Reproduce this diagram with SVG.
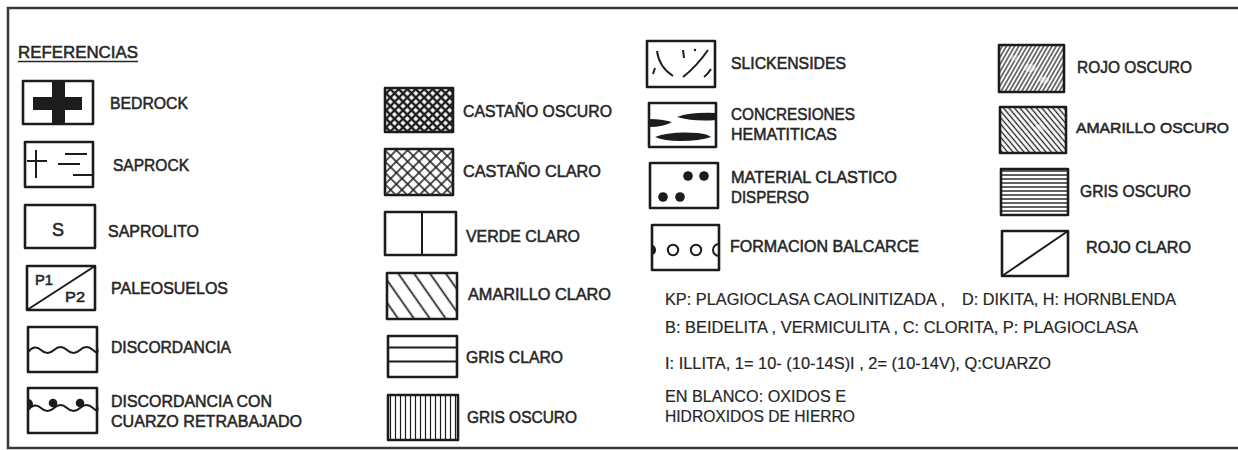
<svg xmlns="http://www.w3.org/2000/svg" width="1238" height="450" viewBox="0 0 1238 450">
<style>
.box{fill:none;stroke:#1c1c1c;stroke-width:2.6;stroke-linejoin:round}
.ln{fill:none;stroke:#1c1c1c;stroke-width:2}
.blk{fill:#1c1c1c}
.lbl{font-family:"Liberation Sans",Arial,sans-serif;font-size:17px;fill:#262626;stroke:#262626;stroke-width:0.55}
.txt{font-family:"Liberation Sans",Arial,sans-serif;font-size:16.5px;fill:#262626;stroke:#262626;stroke-width:0.2}
.frame{fill:none;stroke:#3a3a3a;stroke-width:2.6}
</style>
<defs>
<pattern id="pCO" width="6" height="6" patternUnits="userSpaceOnUse" patternTransform="rotate(45)">
<path d="M0 3H6M3 0V6" stroke="#1c1c1c" stroke-width="2.3"/>
</pattern>
<pattern id="pCC" width="8" height="8" patternUnits="userSpaceOnUse" patternTransform="translate(385 88) rotate(45)">
<path d="M0 4H8M4 0V8" stroke="#1c1c1c" stroke-width="1.5"/>
</pattern>
<pattern id="pAC" width="13" height="13" patternUnits="userSpaceOnUse" patternTransform="translate(390 273) rotate(-35)">
<path d="M6.5 0V13" stroke="#1c1c1c" stroke-width="1.7"/>
</pattern>
<pattern id="pGO2" width="5" height="5" patternUnits="userSpaceOnUse" patternTransform="translate(388 0)">
<path d="M2.5 0V5" stroke="#1c1c1c" stroke-width="1.2"/>
</pattern>
<pattern id="pRO" width="3.6" height="3.6" patternUnits="userSpaceOnUse" patternTransform="rotate(30)">
<path d="M1.8 0V3.6" stroke="#1c1c1c" stroke-width="1.2"/>
</pattern>
<pattern id="pAO" width="4.2" height="4.2" patternUnits="userSpaceOnUse" patternTransform="rotate(-40)">
<path d="M2.1 0V4.2" stroke="#1c1c1c" stroke-width="1.3"/>
</pattern>
<pattern id="pGO4" width="4" height="4" patternUnits="userSpaceOnUse" patternTransform="translate(0 169)">
<path d="M0 2H4" stroke="#1c1c1c" stroke-width="1.4"/>
</pattern>
</defs>

<g id="frame">
<path class="frame" d="M1238 8H8V448H1238"/>
</g>

<g id="title">
<text class="lbl" x="18" y="58" textLength="120" lengthAdjust="spacingAndGlyphs">REFERENCIAS</text>
<path d="M18 61.5H138" stroke="#262626" stroke-width="1.6"/>
</g>

<g id="bedrock">
<rect class="box" x="23" y="81" width="70" height="43"/>
<rect class="blk" x="52" y="81" width="13" height="43"/>
<rect class="blk" x="33" y="97" width="49" height="13"/>
<text class="lbl" x="110" y="109" textLength="78" lengthAdjust="spacingAndGlyphs">BEDROCK</text>
</g>

<g id="saprock">
<rect class="box" x="25" y="142" width="68" height="45"/>
<path class="ln" d="M27 161H47M36 150V178M65 154H87M58 164H80M73 175H92"/>
<text class="lbl" x="113" y="171" textLength="76" lengthAdjust="spacingAndGlyphs">SAPROCK</text>
</g>

<g id="saprolito">
<rect class="box" x="25" y="205" width="70" height="43"/>
<text class="lbl" x="52" y="236" style="font-size:18px">S</text>
<text class="lbl" x="108" y="237" textLength="91" lengthAdjust="spacingAndGlyphs">SAPROLITO</text>
</g>

<g id="paleosuelos">
<rect class="box" x="27" y="266" width="68" height="44"/>
<path class="ln" d="M27 310L95 266"/>
<text class="lbl" x="35" y="285" textLength="18" lengthAdjust="spacingAndGlyphs" style="font-size:14px">P1</text>
<text class="lbl" x="65" y="302" textLength="20" lengthAdjust="spacingAndGlyphs" style="font-size:15px">P2</text>
<text class="lbl" x="111" y="294" textLength="117" lengthAdjust="spacingAndGlyphs">PALEOSUELOS</text>
</g>

<g id="discordancia">
<rect class="box" x="28" y="327" width="69" height="45"/>
<path class="ln" d="M28 352Q34.5 344 41 350T54 350T67 350T80 350T93 350T97 348"/>
<text class="lbl" x="111" y="353" textLength="120" lengthAdjust="spacingAndGlyphs">DISCORDANCIA</text>
</g>

<g id="discordancia-cuarzo">
<rect class="box" x="28" y="388" width="69" height="45"/>
<path class="ln" d="M28 410Q34.5 402 41 408T54 408T67 408T80 408T93 408T97 406"/>
<circle class="blk" cx="53" cy="403" r="4.3"/>
<circle class="blk" cx="80" cy="403" r="4.3"/>
<path class="blk" d="M28 399A4.5 4.5 0 0 1 28 409Z"/>
<text class="lbl" x="111" y="407" textLength="161" lengthAdjust="spacingAndGlyphs">DISCORDANCIA CON</text>
<text class="lbl" x="111" y="427" textLength="191" lengthAdjust="spacingAndGlyphs">CUARZO RETRABAJADO</text>
</g>

<g id="castano-oscuro">
<rect x="385" y="88" width="68" height="44" fill="url(#pCO)"/>
<rect class="box" x="385" y="88" width="68" height="44"/>
<text class="lbl" x="463" y="117" textLength="149" lengthAdjust="spacingAndGlyphs">CASTAÑO OSCURO</text>
</g>

<g id="castano-claro">
<rect x="385" y="149" width="68" height="46" fill="url(#pCC)"/>
<rect class="box" x="385" y="149" width="68" height="46"/>
<text class="lbl" x="463" y="177" textLength="138" lengthAdjust="spacingAndGlyphs">CASTAÑO CLARO</text>
</g>

<g id="verde-claro">
<rect class="box" x="385" y="212" width="71" height="43"/>
<path class="ln" d="M422 212V255"/>
<text class="lbl" x="466" y="242" textLength="114" lengthAdjust="spacingAndGlyphs">VERDE CLARO</text>
</g>

<g id="amarillo-claro">
<rect x="387" y="273" width="70" height="46" fill="url(#pAC)"/>
<rect class="box" x="387" y="273" width="70" height="46"/>
<text class="lbl" x="468" y="300" textLength="143" lengthAdjust="spacingAndGlyphs">AMARILLO CLARO</text>
</g>

<g id="gris-claro">
<rect class="box" x="388" y="336" width="69" height="41"/>
<path class="ln" d="M388 347.5H457M388 361.5H457"/>
<text class="lbl" x="466" y="363" textLength="97" lengthAdjust="spacingAndGlyphs">GRIS CLARO</text>
</g>

<g id="gris-oscuro-1">
<rect x="388" y="395" width="70" height="45" fill="url(#pGO2)"/>
<rect class="box" x="388" y="395" width="70" height="45"/>
<text class="lbl" x="467" y="423" textLength="110" lengthAdjust="spacingAndGlyphs">GRIS OSCURO</text>
</g>

<g id="slickensides">
<rect class="box" x="647" y="41" width="68" height="46"/>
<path class="ln" d="M657 51Q659 67 673 76M683 50L684 58M708 50Q697 66 683 77M711 69Q708 74 704 77M655 68L653 74" stroke-width="1.9"/>
<circle class="blk" cx="695" cy="50" r="1.2"/>
<text class="lbl" x="731" y="69" textLength="115" lengthAdjust="spacingAndGlyphs">SLICKENSIDES</text>
</g>

<g id="concreciones">
<rect class="box" x="649" y="103" width="67" height="44"/>
<path class="blk" d="M649 119Q662 119 672 122Q664 127 649 127Z"/>
<path class="blk" d="M677 117Q690 112 716 113V120Q695 122 677 117Z"/>
<path class="blk" d="M655 137Q670 131 698 133Q708 134 711 137Q700 141 680 141Q664 141 655 137Z"/>
<text class="lbl" x="731" y="120" textLength="124" lengthAdjust="spacingAndGlyphs">CONCRESIONES</text>
<text class="lbl" x="731" y="140" textLength="106" lengthAdjust="spacingAndGlyphs">HEMATITICAS</text>
</g>

<g id="material-clastico">
<rect class="box" x="650" y="163" width="68" height="45"/>
<circle class="blk" cx="688" cy="176" r="4.8"/>
<circle class="blk" cx="704" cy="176" r="4.8"/>
<circle class="blk" cx="663" cy="197" r="4.8"/>
<circle class="blk" cx="680" cy="197" r="4.8"/>
<text class="lbl" x="731" y="183" textLength="166" lengthAdjust="spacingAndGlyphs">MATERIAL CLASTICO</text>
<text class="lbl" x="731" y="203" textLength="78" lengthAdjust="spacingAndGlyphs">DISPERSO</text>
</g>

<g id="formacion-balcarce">
<rect class="box" x="652" y="225" width="67" height="45"/>
<circle class="ln" cx="673" cy="250" r="5.2" stroke-width="2.2"/>
<circle class="ln" cx="696" cy="250" r="5.2" stroke-width="2.2"/>
<path class="ln" d="M719 244A6 6 0 0 0 719 256" stroke-width="2.2"/>
<path class="blk" d="M652 245A4 5 0 0 1 652 255Z"/>
<text class="lbl" x="730" y="252" textLength="189" lengthAdjust="spacingAndGlyphs">FORMACION BALCARCE</text>
</g>

<g id="rojo-oscuro">
<rect x="999" y="45" width="65" height="47" fill="url(#pRO)"/>
<ellipse cx="1030" cy="68" rx="6" ry="4" fill="#fff" opacity="0.55"/>
<ellipse cx="1044" cy="80" rx="5" ry="3.5" fill="#fff" opacity="0.55"/>
<ellipse cx="1015" cy="58" rx="4" ry="3" fill="#fff" opacity="0.4"/>
<rect class="box" x="999" y="45" width="65" height="47"/>
<text class="lbl" x="1077" y="73" textLength="115" lengthAdjust="spacingAndGlyphs">ROJO OSCURO</text>
</g>

<g id="amarillo-oscuro">
<rect x="1000" y="107" width="66" height="46" fill="url(#pAO)"/>
<ellipse cx="1040" cy="128" rx="5" ry="4" fill="#fff" opacity="0.4"/>
<rect class="box" x="1000" y="107" width="66" height="46"/>
<text class="lbl" x="1076" y="133" textLength="153" lengthAdjust="spacingAndGlyphs" style="font-size:15.5px">AMARILLO OSCURO</text>
</g>

<g id="gris-oscuro-2">
<rect x="1001" y="169" width="67" height="46" fill="url(#pGO4)"/>
<rect class="box" x="1001" y="169" width="67" height="46"/>
<text class="lbl" x="1080" y="197" textLength="111" lengthAdjust="spacingAndGlyphs">GRIS OSCURO</text>
</g>

<g id="rojo-claro">
<rect class="box" x="1002" y="231" width="66" height="45"/>
<path class="ln" d="M1002 276L1068 231"/>
<text class="lbl" x="1086" y="253" textLength="105" lengthAdjust="spacingAndGlyphs">ROJO CLARO</text>
</g>

<g id="notes">
<text class="txt" x="665" y="305" textLength="280" lengthAdjust="spacingAndGlyphs">KP: PLAGIOCLASA CAOLINITIZADA ,</text>
<text class="txt" x="962" y="305" textLength="214" lengthAdjust="spacingAndGlyphs">D: DIKITA, H: HORNBLENDA</text>
<text class="txt" x="665" y="333" textLength="473" lengthAdjust="spacingAndGlyphs">B: BEIDELITA , VERMICULITA , C: CLORITA, P: PLAGIOCLASA</text>
<text class="txt" x="665" y="369" textLength="386" lengthAdjust="spacingAndGlyphs">I: ILLITA, 1= 10- (10-14S)I , 2= (10-14V), Q:CUARZO</text>
<text class="txt" x="665" y="402" textLength="181" lengthAdjust="spacingAndGlyphs">EN BLANCO: OXIDOS E</text>
<text class="txt" x="665" y="422" textLength="190" lengthAdjust="spacingAndGlyphs">HIDROXIDOS DE HIERRO</text>
</g>
</svg>
